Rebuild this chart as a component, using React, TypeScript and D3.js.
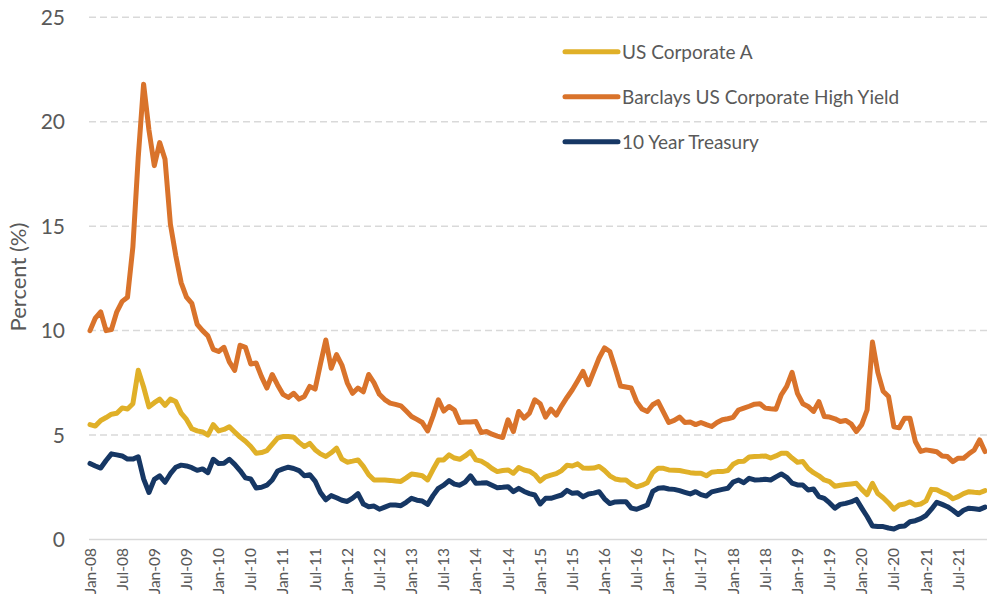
import React from "react";
import * as d3 from "d3";

const startMonth = new Date(2008, 0, 1);
const months: Date[] = d3.timeMonth.range(startMonth, new Date(2022, 0, 1));

const tickLabels: string[] = [
  "Jan-08", "Jul-08", "Jan-09", "Jul-09", "Jan-10", "Jul-10", "Jan-11", "Jul-11",
  "Jan-12", "Jul-12", "Jan-13", "Jul-13", "Jan-14", "Jul-14", "Jan-15", "Jul-15",
  "Jan-16", "Jul-16", "Jan-17", "Jul-17", "Jan-18", "Jul-18", "Jan-19", "Jul-19",
  "Jan-20", "Jul-20", "Jan-21", "Jul-21",
];

const yTicks: number[] = [0, 5, 10, 15, 20, 25];

const seriesNames: string[] = [
  "US Corporate A",
  "Barclays US Corporate High Yield",
  "10 Year Treasury",
];

const corporateA: number[] = [
  5.5, 5.43, 5.7, 5.84, 6.0, 6.04, 6.3, 6.25, 6.5, 8.1, 7.3, 6.35,
  6.55, 6.72, 6.42, 6.72, 6.6, 6.05, 5.75, 5.3, 5.2, 5.15, 5.0, 5.5,
  5.2, 5.27, 5.4, 5.15, 4.9, 4.7, 4.45, 4.13, 4.16, 4.25, 4.55, 4.85,
  4.93, 4.93, 4.9, 4.65, 4.45, 4.6, 4.3, 4.1, 3.97, 4.15, 4.37, 3.85,
  3.7, 3.75, 3.81, 3.5, 3.1, 2.85, 2.85, 2.85, 2.83, 2.8, 2.78, 2.95,
  3.14, 3.1, 3.05, 2.85, 3.35, 3.81, 3.81, 4.05, 3.9, 3.84, 4.0, 4.21,
  3.81, 3.75, 3.6, 3.4, 3.25, 3.3, 3.33, 3.17, 3.45, 3.33, 3.27, 3.1,
  2.8, 3.0, 3.08, 3.15, 3.3, 3.55, 3.52, 3.62, 3.42, 3.41, 3.42, 3.5,
  3.3, 3.05, 2.9, 2.85, 2.85, 2.65, 2.52, 2.6, 2.72, 3.2, 3.41, 3.41,
  3.33, 3.32, 3.3, 3.25, 3.2, 3.17, 3.17, 3.05, 3.22, 3.25, 3.25, 3.3,
  3.6, 3.73, 3.75, 3.95, 3.97, 3.98, 4.0, 3.9, 4.0, 4.13, 4.13, 3.9,
  3.7, 3.73, 3.4, 3.2, 3.05, 2.85, 2.77, 2.55, 2.6, 2.63, 2.66, 2.69,
  2.4, 2.15, 2.69, 2.2, 2.0, 1.75, 1.45, 1.65, 1.7, 1.8, 1.65, 1.7,
  1.85, 2.4, 2.38, 2.25, 2.15, 1.95, 2.05, 2.2, 2.29, 2.26, 2.24, 2.34,
];

const highYield: number[] = [
  10.0, 10.6, 10.9, 10.0, 10.05, 10.9, 11.4, 11.6, 14.0, 18.3, 21.8, 19.6,
  17.9, 19.0, 18.2, 15.1, 13.6, 12.3, 11.6, 11.3, 10.3, 10.0, 9.75, 9.1,
  9.0, 9.2, 8.5, 8.1, 9.3, 9.2, 8.4, 8.45, 7.8, 7.25, 7.9, 7.4,
  6.95, 6.8, 7.0, 6.72, 6.85, 7.33, 7.2, 8.4, 9.55, 8.2, 8.85, 8.35,
  7.5, 7.0, 7.25, 7.07, 7.9, 7.5, 6.95, 6.7, 6.53, 6.47, 6.4, 6.15,
  5.89, 5.75, 5.6, 5.2, 5.9, 6.69, 6.15, 6.37, 6.2, 5.6, 5.62, 5.63,
  5.65, 5.12, 5.17, 5.04, 4.95, 4.88, 5.73, 5.17, 6.13, 5.81, 6.05, 6.69,
  6.5, 5.86, 6.24, 5.95, 6.4, 6.8, 7.17, 7.6, 8.05, 7.41, 8.05, 8.69,
  9.17, 9.0, 8.2, 7.35, 7.3, 7.25, 6.6, 6.25, 6.13, 6.45, 6.6, 6.1,
  5.6, 5.7, 5.86, 5.6, 5.62, 5.5, 5.6, 5.5, 5.41, 5.6, 5.73, 5.78,
  5.85, 6.2, 6.29, 6.38, 6.48, 6.5, 6.29, 6.26, 6.24, 6.93, 7.33, 8.0,
  7.0, 6.5, 6.37, 6.13, 6.6, 5.89, 5.86, 5.78, 5.65, 5.7, 5.54, 5.17,
  5.5, 6.2, 9.45, 8.0, 7.1, 6.85, 5.4, 5.35, 5.81, 5.8, 4.69, 4.22,
  4.29, 4.25, 4.2, 4.0, 3.97, 3.73, 3.89, 3.89, 4.1, 4.29, 4.77, 4.21,
];

const treasury10y: number[] = [
  3.64, 3.52, 3.42, 3.78, 4.1, 4.05, 4.0, 3.85, 3.85, 3.96, 2.9, 2.25,
  2.88, 3.05, 2.74, 3.15, 3.46, 3.56, 3.52, 3.44, 3.31, 3.38, 3.2, 3.84,
  3.64, 3.65, 3.84, 3.6, 3.3, 2.95, 2.9, 2.47, 2.5, 2.6, 2.85, 3.28,
  3.38, 3.46, 3.4, 3.3, 3.05, 3.1, 2.8, 2.25, 1.9, 2.1, 2.0, 1.88,
  1.82, 1.98, 2.2, 1.7, 1.57, 1.6, 1.45, 1.55, 1.65, 1.65, 1.62, 1.78,
  1.97, 1.88, 1.84, 1.68, 2.1, 2.45, 2.6, 2.82, 2.65, 2.6, 2.75, 3.05,
  2.69, 2.7, 2.72, 2.6, 2.48, 2.5, 2.53, 2.29, 2.45, 2.3, 2.2, 2.13,
  1.7, 1.97, 1.97, 2.05, 2.13, 2.35, 2.21, 2.24, 2.05, 2.18, 2.22, 2.29,
  1.95, 1.72, 1.8, 1.81, 1.81, 1.5, 1.45, 1.55, 1.65, 2.3, 2.45, 2.48,
  2.42, 2.4, 2.34, 2.26, 2.18, 2.29, 2.15, 2.08, 2.28, 2.34, 2.4, 2.45,
  2.75, 2.85, 2.72, 2.93, 2.85, 2.86, 2.88, 2.85, 3.0, 3.14, 2.98, 2.7,
  2.61, 2.61, 2.37, 2.42, 2.05, 1.97, 1.75, 1.5, 1.68, 1.73, 1.8, 1.92,
  1.5, 1.1, 0.65, 0.62, 0.62, 0.55, 0.5, 0.62, 0.65, 0.85, 0.9, 1.0,
  1.15, 1.45, 1.78, 1.68, 1.57, 1.4, 1.2, 1.4, 1.5, 1.47, 1.44, 1.55,
];

const colors = ["#E0B028", "#D9732B", "#163764"];
const seriesData = [corporateA, highYield, treasury10y];

const W = 987;
const H = 603;
const FONT = "Lato, 'Open Sans', sans-serif";

export default function App() {
  const x = d3.scaleLinear().domain([0, months.length - 1]).range([90, 985]);
  const y = d3.scaleLinear().domain([0, 25]).range([539.5, 17.3]);
  const line = d3
    .line<number>()
    .x((_, i) => x(i))
    .y((d) => y(d));

  const gridX0 = 89;
  const gridX1 = 987;

  return (
    <svg
      width={W}
      height={H}
      style={{ position: "absolute", left: 0, top: 0, background: "#fff" }}
      fontFamily={FONT}
    >
      <rect x={0} y={0} width={W} height={H} fill="#fff" />
      {yTicks.map((t) => (
        <g key={t}>
          {t > 0 && (
            <line
              x1={gridX0}
              x2={gridX1}
              y1={y(t)}
              y2={y(t)}
              stroke="#D9D9D9"
              strokeWidth={1.5}
              strokeDasharray="7,4"
            />
          )}
          <text
            x={65}
            y={y(t)}
            dy="0.36em"
            textAnchor="end"
            fontSize={21}
            fill="#595959"
          >
            {t}
          </text>
        </g>
      ))}
      <line x1={gridX0} x2={gridX1} y1={y(0)} y2={y(0)} stroke="#D9D9D9" strokeWidth={1.5} />
      <text
        transform={`translate(26,${277}) rotate(-90)`}
        textAnchor="middle"
        fontSize={22}
        fill="#595959"
      >
        Percent (%)
      </text>
      {tickLabels.map((lab, k) => {
        const xi = x(k * 6);
        return (
          <text
            key={lab}
            transform={`translate(${xi + 5.5},548) rotate(-90)`}
            textAnchor="end"
            fontSize={15.5}
            fill="#595959"
          >
            {lab}
          </text>
        );
      })}
      {seriesData.map((s, i) => (
        <path
          key={seriesNames[i]}
          d={line(s) || ""}
          fill="none"
          stroke={colors[i]}
          strokeWidth={5}
          strokeLinejoin="round"
          strokeLinecap="round"
        />
      ))}
      {seriesNames.map((n, i) => {
        const ly = 51.7 + i * 45;
        return (
          <g key={n}>
            <line
              x1={565}
              x2={618}
              y1={ly}
              y2={ly}
              stroke={colors[i]}
              strokeWidth={5}
              strokeLinecap="round"
            />
            <text x={622} y={ly} dy="0.36em" fontSize={19} fill="#595959">
              {n}
            </text>
          </g>
        );
      })}
    </svg>
  );
}
